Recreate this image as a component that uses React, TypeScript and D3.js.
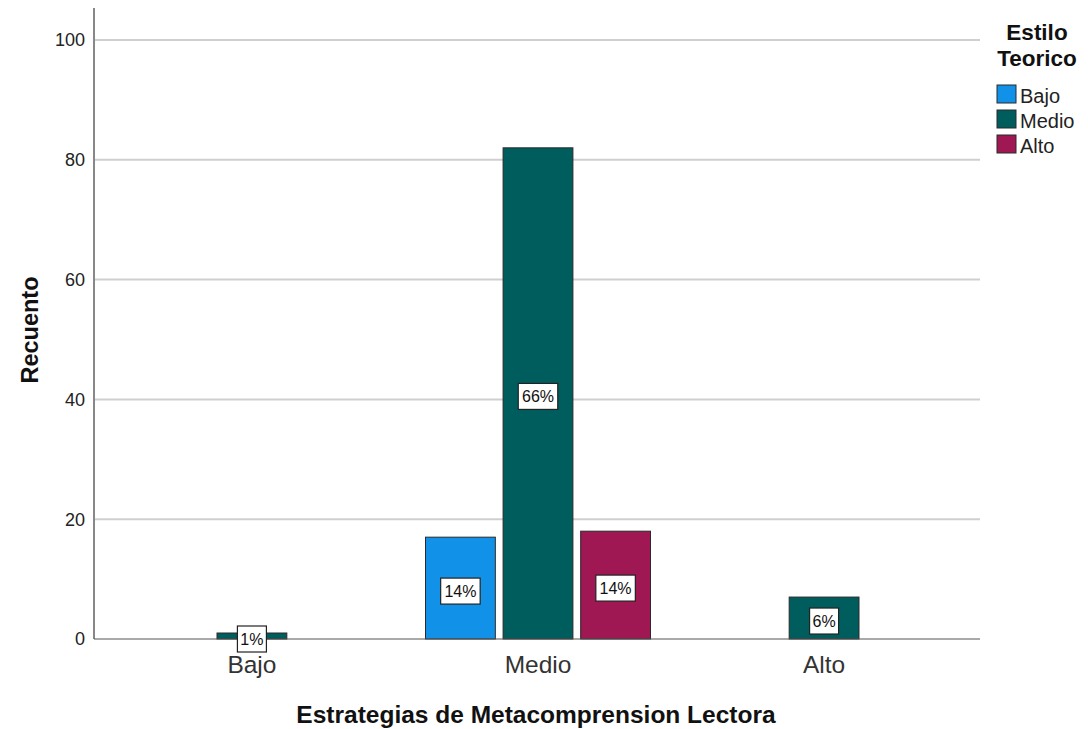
import React from "react";
import * as d3 from "d3";

// Counts by reading-strategy level (x) and theoretical style (series)
const categories = ["Bajo", "Medio", "Alto"];
const seriesNames = ["Bajo", "Medio", "Alto"];
const seriesColors = ["#1192e8", "#005d5d", "#9f1853"];
// values[category][series]; null = no bar
const values: (number | null)[][] = [
  [null, 1, null],
  [17, 82, 18],
  [null, 7, null],
];
const yTicks = [0, 20, 40, 60, 80, 100];

const W = 1088;
const H = 729;
const plotLeft = 94;
const plotRight = 980;
const plotTop = 8;
const plotBottom = 639;

export default function App() {
  const total = d3.sum(values.flat().map((v) => v ?? 0));

  const x = d3
    .scaleBand<string>()
    .domain(categories)
    .range([plotLeft + 2, plotRight])
    .paddingInner(0)
    .paddingOuter(0.045);

  const sub = d3
    .scaleBand<string>()
    .domain(seriesNames)
    .range([0, 225])
    .paddingInner(0.1);

  const y = d3.scaleLinear().domain([0, 100]).range([plotBottom, plotBottom - 599]);

  const font = "'Liberation Sans', Arial, sans-serif";

  return (
    <svg width={W} height={H} style={{ position: "absolute", left: 0, top: 0, background: "#fff" }} fontFamily={font}>
      {/* gridlines */}
      {yTicks.filter((t) => t > 0).map((t) => (
        <line key={t} x1={plotLeft} x2={plotRight} y1={y(t)} y2={y(t)} stroke="#cfcfcf" strokeWidth={2} />
      ))}
      {/* y tick labels */}
      {yTicks.map((t) => (
        <text key={t} x={85} y={y(t)} dy="0.36em" textAnchor="end" fontSize={18} fill="#222">
          {t}
        </text>
      ))}
      {/* bars */}
      {categories.map((c, ci) => {
        const cx = (x(c) ?? 0) + x.bandwidth() / 2;
        return (
          <g key={c}>
            {seriesNames.map((s, si) => {
              const v = values[ci][si];
              if (v == null) return null;
              const bx = cx - 112.5 + (sub(s) ?? 0);
              const bw = sub.bandwidth();
              return (
                <rect key={s} x={bx} y={y(v)} width={bw} height={plotBottom - y(v)} fill={seriesColors[si]} stroke="#2a2a2a" strokeWidth={1} />
              );
            })}
          </g>
        );
      })}
      {/* axes lines */}
      <line x1={plotLeft} x2={plotLeft} y1={plotTop} y2={plotBottom} stroke="#888" strokeWidth={2} />
      <line x1={plotLeft} x2={plotRight} y1={plotBottom} y2={plotBottom} stroke="#555" strokeWidth={1.2} />
      {/* percentage labels */}
      {categories.map((c, ci) => {
        const cx = (x(c) ?? 0) + x.bandwidth() / 2;
        return seriesNames.map((s, si) => {
          const v = values[ci][si];
          if (v == null) return null;
          const bx = cx - 112.5 + (sub(s) ?? 0) + sub.bandwidth() / 2;
          const by = (y(v) + plotBottom) / 2 + 3;
          const label = `${Math.round((v / total) * 100)}%`;
          const bw = label.length * 10.5 + 8;
          const bh = 26;
          return (
            <g key={`${c}-${s}`}>
              <rect x={bx - bw / 2} y={by - bh / 2} width={bw} height={bh} fill="#fff" stroke="#222" strokeWidth={1.2} />
              <text x={bx} y={by} dy="0.36em" textAnchor="middle" fontSize={16} fill="#111">
                {label}
              </text>
            </g>
          );
        });
      })}
      {/* x tick labels */}
      {categories.map((c) => (
        <text key={c} x={(x(c) ?? 0) + x.bandwidth() / 2} y={673} textAnchor="middle" fontSize={24.5} fill="#333">
          {c}
        </text>
      ))}
      {/* axis titles */}
      <text x={536} y={723} textAnchor="middle" fontSize={24.5} fontWeight="bold" fill="#111">
        Estrategias de Metacomprension Lectora
      </text>
      <text transform="translate(38,330) rotate(-90)" textAnchor="middle" fontSize={23.5} fontWeight="bold" fill="#111">
        Recuento
      </text>
      {/* legend */}
      <text x={1037} y={40} textAnchor="middle" fontSize={22.5} fontWeight="bold" fill="#111">
        Estilo
      </text>
      <text x={1037} y={66} textAnchor="middle" fontSize={22.5} fontWeight="bold" fill="#111">
        Teorico
      </text>
      {seriesNames.map((s, i) => (
        <g key={s} transform={`translate(997,${85 + i * 25})`}>
          <rect x={0} y={0} width={19} height={18} fill={seriesColors[i]} stroke="#2a2a2a" strokeWidth={1} />
          <text x={23} y={18} fontSize={20} fill="#222">
            {s}
          </text>
        </g>
      ))}
    </svg>
  );
}
